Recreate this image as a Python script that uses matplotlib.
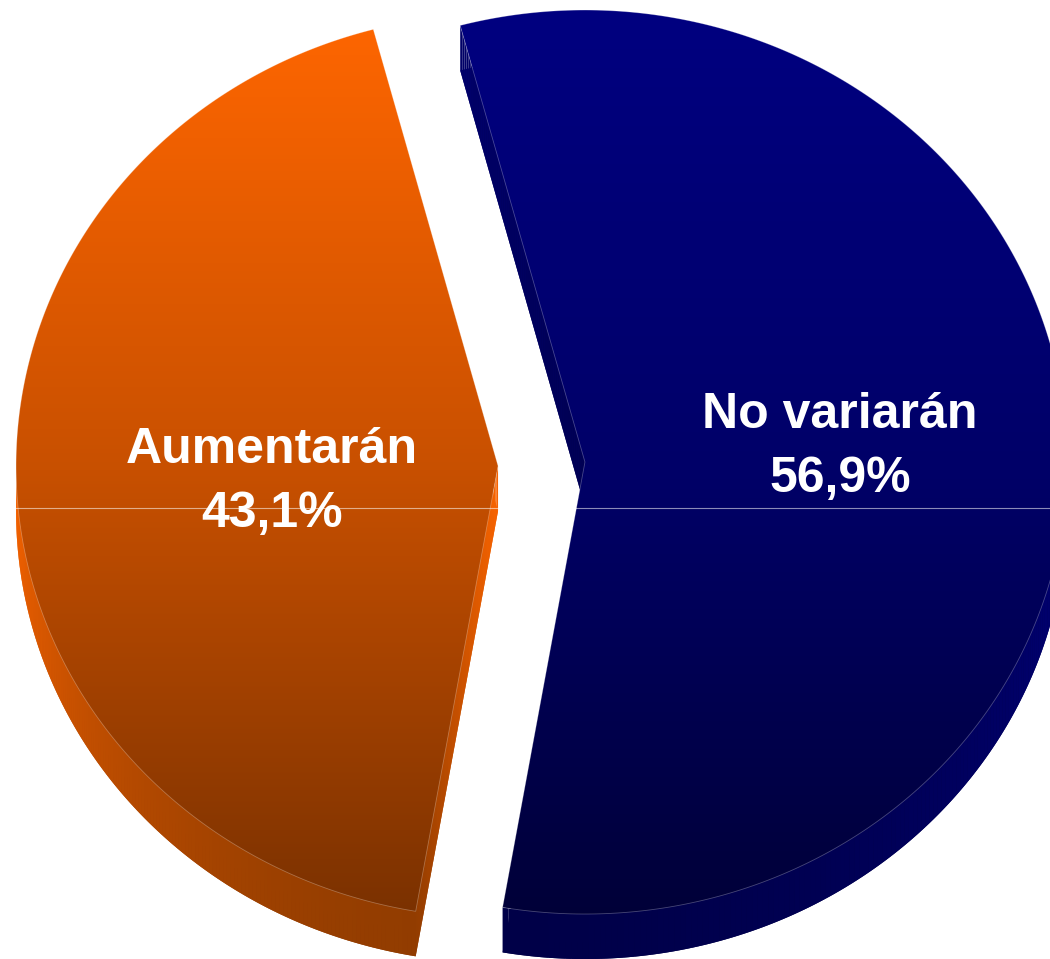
import numpy as np
import matplotlib
matplotlib.use("Agg")
import matplotlib.pyplot as plt
from matplotlib.patches import Polygon
from matplotlib.collections import PolyCollection

labels = ["Aumentarán", "No variarán"]
values = [43.1, 56.9]
pct_text = ["43,1%", "56,9%"]

# colour stops (pixel row, rgb) for the top faces and the side walls
top_stops = [
    [(13, (255, 102, 0)), (470, (200, 80, 0)), (917, (122, 49, 0))],
    [(10, (0, 0, 128)), (470, (0, 0, 104)), (917, (0, 0, 56))],
]
side_stops = [
    [(460, (255, 102, 0)), (960, (140, 58, 0))],
    [(0, (0, 0, 128)), (960, (0, 0, 72))],
]
side_shade = [0.0, 0.18]

W, H = 1050, 959
cx, cy = 541.5, 464      # pie centre (px)
rx, ry = 482, 452        # radii of the tilted top face
depth = 45               # thickness of the 3d pie
explode = 43.5
start = 105.0
label_xy = [(272, 495), (840, 460)]   # midpoint between the two text baselines


def grad(stops, y):
    ys = [s[0] for s in stops]
    rgb = np.array([s[1] for s in stops], dtype=float) / 255
    y = np.atleast_1d(y)
    return np.column_stack([np.interp(y, ys, rgb[:, k]) for k in range(3)])


def gradient_fill(ax, stops, poly, y0, y1, x0, x1, z):
    rows = np.linspace(y0, y1, 500)
    img = grad(stops, rows)[:, None, :]
    im = ax.imshow(img, extent=(x0, x1, y1, y0), aspect="auto",
                   interpolation="bilinear", zorder=z)
    im.set_clip_path(poly)


fig = plt.figure(figsize=(W / 100, H / 100), dpi=100)
ax = fig.add_axes([0, 0, 1, 1])
ax.axis("off")

total = sum(values)
a0 = start
for i, v in enumerate(values):
    a1 = a0 + 360 * v / total
    mid = np.radians((a0 + a1) / 2)
    ox = cx + explode * np.cos(mid)
    oy = cy - explode * np.sin(mid)

    t = np.radians(np.linspace(a0, a1, 300))
    arc = np.column_stack([ox + rx * np.cos(t), oy - ry * np.sin(t)])
    apex = np.array([ox, oy])
    f = np.linspace(0, 1, 60)[:-1, None]
    pts = np.vstack([apex + f * (arc[0] - apex), arc, arc[-1] + f * (apex - arc[-1])])

    # bottom face as a backing for the walls
    bottom = Polygon(pts + [0, depth], closed=True, facecolor="none",
                     edgecolor="none", zorder=0)
    ax.add_patch(bottom)
    gradient_fill(ax, side_stops[i], bottom, oy - ry + depth, oy + ry + depth,
                  ox - rx, ox + rx, 0.5)

    # side walls: extrude every front-facing edge downwards
    nxt = np.roll(pts, -1, axis=0)
    area = 0.5 * np.sum(pts[:, 0] * nxt[:, 1] - nxt[:, 0] * pts[:, 1])
    quads, cols = [], []
    for p, q in zip(pts, nxt):
        d = q - p
        n = np.array([d[1], -d[0]]) * np.sign(area)
        ln = np.hypot(*n)
        if ln == 0 or n[1] <= 0:
            continue
        n = n / ln
        quads.append([p, q, q + [0, depth], p + [0, depth]])
        c = grad(side_stops[i], (p[1] + q[1]) / 2 + depth / 2)[0] * (1 + side_shade[i] * n[0])
        cols.append(np.clip(c, 0, 1))
    ax.add_collection(PolyCollection(quads, facecolors=cols, edgecolors="none",
                                     linewidths=0, zorder=1))

    # top face with vertical gradient
    face = Polygon(pts, closed=True, facecolor="none",
                   edgecolor=(1, 1, 1, 0.28), linewidth=0.6, zorder=3)
    ax.add_patch(face)
    gradient_fill(ax, top_stops[i], face, oy - ry, oy + ry, ox - rx, ox + rx, 2)

    lx, ly = label_xy[i]
    ax.text(lx, ly - 32, labels[i], ha="center", va="baseline", color="white",
            fontsize=36, fontweight="bold", family="Liberation Sans", zorder=5)
    ax.text(lx, ly + 32, pct_text[i], ha="center", va="baseline", color="white",
            fontsize=36, fontweight="bold", family="Liberation Sans", zorder=5)
    a0 = a1

ax.axhline(508, color="white", alpha=0.55, linewidth=0.8, zorder=4)

ax.set_xlim(0, W)
ax.set_ylim(H, 0)
fig.savefig("out.png", dpi=100)
